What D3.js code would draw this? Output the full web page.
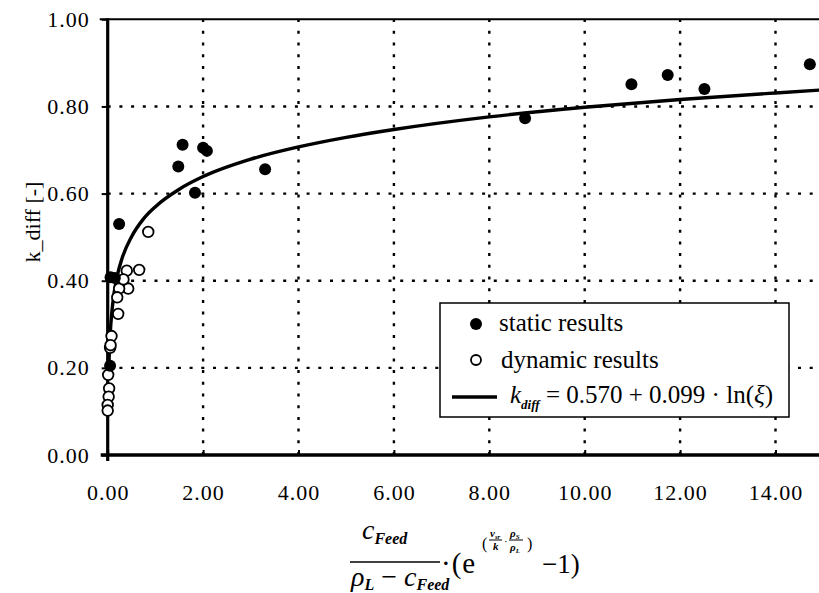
<!DOCTYPE html>
<html><head><meta charset="utf-8">
<script src="https://cdn.jsdelivr.net/npm/d3@7"></script>
<style>
body{margin:0;background:#fff}
svg{display:block;background:#fff}
</style>
</head><body><svg id="c" width="819" height="593"></svg>
<script>
// ---- data ----
const xTicks = [0, 2, 4, 6, 8, 10, 12, 14];
const yTicks = [0, 0.2, 0.4, 0.6, 0.8, 1.0];
const xGrid = [2, 4, 6, 8, 10, 12, 14];
const yGrid = [0.2, 0.4, 0.6, 0.8];

const staticX = [0.05, 0.15, 0.06, 0.24, 1.48, 1.57, 1.83, 2.00, 2.08, 3.30, 8.75, 10.98, 11.74, 12.51, 14.72];
const staticY = [0.205, 0.406, 0.408, 0.53, 0.662, 0.712, 0.602, 0.705, 0.698, 0.656, 0.773, 0.851, 0.872, 0.840, 0.897];

const dynamicX = [0.85, 0.66, 0.40, 0.43, 0.24, 0.33, 0.20, 0.22, 0.08, 0.05, 0.06, 0.01, 0.03, 0.02, 0.00, 0.00];
const dynamicY = [0.512, 0.425, 0.423, 0.382, 0.382, 0.403, 0.362, 0.324, 0.273, 0.246, 0.252, 0.184, 0.153, 0.134, 0.115, 0.102];

// fitted curve k_diff = 0.570 + 0.099 ln(xi)
const fitX = [0.02, 0.03, 0.05, 0.1, 0.2, 0.3, 0.5, 0.75, 1, 1.5, 2, 3, 4, 5, 6, 8, 10, 12, 14, 15];
const fitY = [0.183, 0.223, 0.273, 0.342, 0.411, 0.451, 0.501, 0.542, 0.570, 0.610, 0.639, 0.679, 0.707, 0.729, 0.747, 0.776, 0.798, 0.816, 0.831, 0.838];

const legendLabels = ["static results", "dynamic results"];

// ---- drawing ----
const FONT = "Liberation Serif";
const svg = d3.select("#c").style("font-family", FONT);
const x0 = 107.7, xUnit = 47.7;
const x = d3.scaleLinear().domain([0, 15]).range([x0, x0 + 15 * xUnit]);
const y = d3.scaleLinear().domain([0, 1]).range([455, 19.3]);

const grid = svg.append("g").attr("stroke", "#000").attr("stroke-width", 2.4)
  .attr("stroke-dasharray", "3,8.7").attr("fill", "none");
grid.selectAll(".gx").data(xGrid).join("line")
  .attr("x1", d => x(d)).attr("x2", d => x(d)).attr("y1", y(0)).attr("y2", y(1));
grid.selectAll(".gy").data(yGrid).join("line")
  .attr("x1", x(0)).attr("x2", 819).attr("y1", d => y(d)).attr("y2", d => y(d));

// top frame line
svg.append("line").attr("x1", x(0) - 8).attr("x2", 819).attr("y1", y(1)).attr("y2", y(1))
  .attr("stroke", "#000").attr("stroke-width", 2);

// axes
const fmt = d3.format(".2f");
const yAxis = svg.append("g").attr("transform", `translate(${x(0)},0)`)
  .call(d3.axisLeft(y).tickValues(yTicks).tickFormat(fmt).tickSize(6).tickPadding(12));
const xAxis = svg.append("g").attr("transform", `translate(0,${y(0)})`)
  .call(d3.axisBottom(x).tickValues(xTicks).tickFormat(fmt).tickSize(-5).tickPadding(29));
[xAxis, yAxis].forEach(g => {
  g.attr("font-family", FONT).style("font-family", FONT);
  g.select(".domain").remove();
  g.selectAll(".tick line").attr("stroke", "#000").attr("stroke-width", 2);
  g.selectAll(".tick text").style("font-family", FONT)
    .attr("font-size", 22).attr("letter-spacing", 1).attr("fill", "#000");
});
svg.append("line").attr("x1", x(0)).attr("x2", x(0)).attr("y1", y(1) - 1).attr("y2", y(0) + 6)
  .attr("stroke", "#000").attr("stroke-width", 3.2);
svg.append("line").attr("x1", x(0) - 7).attr("x2", 819).attr("y1", y(0)).attr("y2", y(0))
  .attr("stroke", "#000").attr("stroke-width", 3.6);

// fit curve
const line = d3.line().x(d => x(d[0])).y(d => y(d[1])).curve(d3.curveMonotoneX);
svg.append("path").datum(d3.zip(fitX, fitY)).attr("d", line)
  .attr("fill", "none").attr("stroke", "#000").attr("stroke-width", 3.4);

// points
svg.append("g").selectAll("circle").data(d3.zip(dynamicX, dynamicY)).join("circle")
  .attr("cx", d => x(d[0])).attr("cy", d => y(d[1])).attr("r", 5.3)
  .attr("fill", "#fff").attr("stroke", "#000").attr("stroke-width", 1.8);
svg.append("g").selectAll("circle").data(d3.zip(staticX, staticY)).join("circle")
  .attr("cx", d => x(d[0])).attr("cy", d => y(d[1])).attr("r", 6)
  .attr("fill", "#000");

// helper for text
function T(parent, xx, yy, size) {
  return parent.append("text").attr("x", xx).attr("y", yy).attr("font-size", size)
    .attr("font-family", FONT).style("font-family", FONT).attr("fill", "#000");
}

// legend
const lg = svg.append("g");
lg.append("rect").attr("x", 440).attr("y", 303).attr("width", 349).attr("height", 114)
  .attr("fill", "#fff").attr("stroke", "#000").attr("stroke-width", 1.5);
lg.append("circle").attr("cx", 476).attr("cy", 324).attr("r", 6).attr("fill", "#000");
lg.append("circle").attr("cx", 476).attr("cy", 360).attr("r", 5).attr("fill", "#fff")
  .attr("stroke", "#000").attr("stroke-width", 1.8);
T(lg, 499, 331, 25).text(legendLabels[0]);
T(lg, 501, 368, 25).text(legendLabels[1]);
lg.append("line").attr("x1", 452).attr("x2", 497).attr("y1", 397).attr("y2", 397)
  .attr("stroke", "#000").attr("stroke-width", 3.4);
const ft = T(lg, 510, 403, 25);
ft.append("tspan").attr("font-style", "italic").text("k");
ft.append("tspan").attr("font-style", "italic").attr("font-weight", "bold").attr("font-size", 13)
  .attr("dy", 6).text("diff");
ft.append("tspan").attr("dy", -6).text(" = 0.570 + 0.099 · ln(");
ft.append("tspan").attr("font-style", "italic").text("ξ");
ft.append("tspan").text(")");

// y label
svg.append("text").attr("transform", "translate(40,222) rotate(-90)")
  .attr("font-family", FONT).style("font-family", FONT)
  .attr("text-anchor", "middle").attr("font-size", 22).text("k_diff [-]");

// x label (formula)
const xl = svg.append("g");
const num = T(xl, 362, 539, 28);
num.append("tspan").attr("font-style", "italic").text("c");
num.append("tspan").attr("font-style", "italic").attr("font-weight", "bold").attr("font-size", 16)
  .attr("dy", 5).text("Feed");
xl.append("line").attr("x1", 350).attr("x2", 440).attr("y1", 562).attr("y2", 562)
  .attr("stroke", "#000").attr("stroke-width", 1.5);
const den = T(xl, 351, 586, 28);
den.append("tspan").attr("font-style", "italic").text("ρ");
den.append("tspan").attr("font-style", "italic").attr("font-weight", "bold").attr("font-size", 16)
  .attr("dy", 4).text("L");
den.append("tspan").attr("dy", -4).text(" − ");
den.append("tspan").attr("font-style", "italic").text("c");
den.append("tspan").attr("font-style", "italic").attr("font-weight", "bold").attr("font-size", 16)
  .attr("dy", 4).text("Feed");
T(xl, 441, 573, 29).attr("letter-spacing", 1).text("·(e");
T(xl, 482, 549, 16).text("(");
const ev = T(xl, 490, 537, 11).attr("font-style", "italic").attr("font-weight", "bold");
ev.append("tspan").text("v");
ev.append("tspan").attr("font-size", 7).attr("dy", 2).text("sr");
xl.append("line").attr("x1", 489).attr("x2", 502).attr("y1", 540).attr("y2", 540).attr("stroke", "#000").attr("stroke-width", 1);
T(xl, 493, 550, 11).attr("font-style", "italic").attr("font-weight", "bold").text("k");
T(xl, 504, 545, 11).text("·");
const er = T(xl, 510, 537, 11).attr("font-style", "italic").attr("font-weight", "bold");
er.append("tspan").text("ρ");
er.append("tspan").attr("font-size", 7).attr("dy", 2).text("S");
xl.append("line").attr("x1", 509).attr("x2", 523).attr("y1", 540).attr("y2", 540).attr("stroke", "#000").attr("stroke-width", 1);
const er2 = T(xl, 510, 551, 11).attr("font-style", "italic").attr("font-weight", "bold");
er2.append("tspan").text("ρ");
er2.append("tspan").attr("font-size", 7).attr("dy", 2).text("L");
T(xl, 527, 549, 16).text(")");
T(xl, 542, 573, 27).text("−1)");
</script>
</body></html>
